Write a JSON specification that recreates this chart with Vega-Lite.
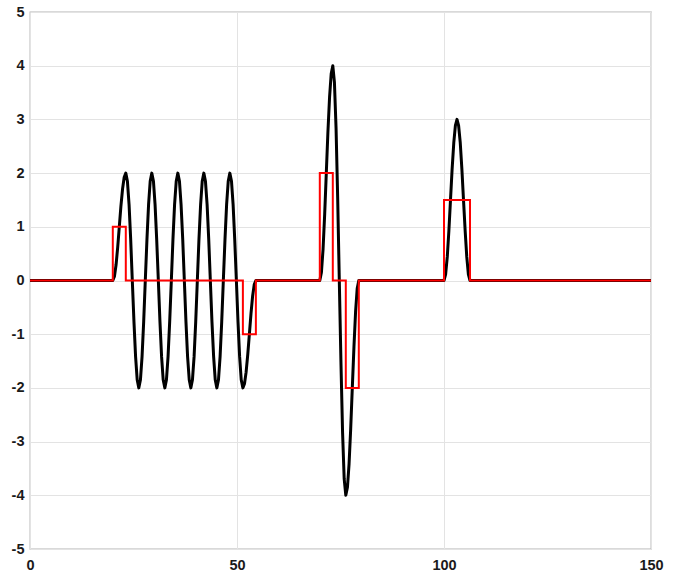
{
  "$schema": "https://vega.github.io/schema/vega-lite/v6.json",
  "autosize": "none",
  "width": 621,
  "height": 537,
  "padding": {"left": 30, "top": 12, "right": 26, "bottom": 26},
  "background": "white",
  "config": {
    "view": {"stroke": "#b4b4b4", "strokeWidth": 1.3},
    "axis": {
      "domain": false,
      "grid": true,
      "gridColor": "#e3e3e3",
      "gridWidth": 1,
      "ticks": false,
      "labelFont": "Liberation Sans",
      "labelFontSize": 14.5,
      "labelFontWeight": "bold",
      "labelColor": "#1a1a1a",
      "labelExpr": "replace(datum.label, '\u2212', '-')",
      "title": null
    }
  },
  "datasets": {
    "black": [
      {"x": 0, "y": 0},
      {"x": 20.00, "y": 0}, {"x": 20.39, "y": 0.076}, {"x": 20.79, "y": 0.293}, {"x": 21.18, "y": 0.617},
      {"x": 21.57, "y": 1}, {"x": 21.96, "y": 1.383}, {"x": 22.36, "y": 1.707}, {"x": 22.75, "y": 1.924},
      {"x": 23.14, "y": 2}, {"x": 23.53, "y": 1.848}, {"x": 23.93, "y": 1.414}, {"x": 24.32, "y": 0.765},
      {"x": 24.71, "y": 0}, {"x": 25.11, "y": -0.765}, {"x": 25.50, "y": -1.414}, {"x": 25.89, "y": -1.848},
      {"x": 26.28, "y": -2}, {"x": 26.68, "y": -1.848}, {"x": 27.07, "y": -1.414}, {"x": 27.46, "y": -0.765},
      {"x": 27.85, "y": 0}, {"x": 28.25, "y": 0.765}, {"x": 28.64, "y": 1.414}, {"x": 29.03, "y": 1.848},
      {"x": 29.42, "y": 2}, {"x": 29.82, "y": 1.848}, {"x": 30.21, "y": 1.414}, {"x": 30.60, "y": 0.765},
      {"x": 31.00, "y": 0}, {"x": 31.39, "y": -0.765}, {"x": 31.78, "y": -1.414}, {"x": 32.17, "y": -1.848},
      {"x": 32.57, "y": -2}, {"x": 32.96, "y": -1.848}, {"x": 33.35, "y": -1.414}, {"x": 33.74, "y": -0.765},
      {"x": 34.14, "y": 0}, {"x": 34.53, "y": 0.765}, {"x": 34.92, "y": 1.414}, {"x": 35.32, "y": 1.848},
      {"x": 35.71, "y": 2}, {"x": 36.10, "y": 1.848}, {"x": 36.49, "y": 1.414}, {"x": 36.89, "y": 0.765},
      {"x": 37.28, "y": 0}, {"x": 37.67, "y": -0.765}, {"x": 38.06, "y": -1.414}, {"x": 38.46, "y": -1.848},
      {"x": 38.85, "y": -2}, {"x": 39.24, "y": -1.848}, {"x": 39.64, "y": -1.414}, {"x": 40.03, "y": -0.765},
      {"x": 40.42, "y": 0}, {"x": 40.81, "y": 0.765}, {"x": 41.21, "y": 1.414}, {"x": 41.60, "y": 1.848},
      {"x": 41.99, "y": 2}, {"x": 42.38, "y": 1.848}, {"x": 42.78, "y": 1.414}, {"x": 43.17, "y": 0.765},
      {"x": 43.56, "y": 0}, {"x": 43.95, "y": -0.765}, {"x": 44.35, "y": -1.414}, {"x": 44.74, "y": -1.848},
      {"x": 45.13, "y": -2}, {"x": 45.53, "y": -1.848}, {"x": 45.92, "y": -1.414}, {"x": 46.31, "y": -0.765},
      {"x": 46.70, "y": 0}, {"x": 47.10, "y": 0.765}, {"x": 47.49, "y": 1.414}, {"x": 47.88, "y": 1.848},
      {"x": 48.27, "y": 2}, {"x": 48.67, "y": 1.848}, {"x": 49.06, "y": 1.414}, {"x": 49.45, "y": 0.765},
      {"x": 49.85, "y": 0}, {"x": 50.24, "y": -0.765}, {"x": 50.63, "y": -1.414}, {"x": 51.02, "y": -1.848},
      {"x": 51.42, "y": -2}, {"x": 51.81, "y": -1.924}, {"x": 52.20, "y": -1.707}, {"x": 52.59, "y": -1.383},
      {"x": 52.99, "y": -1}, {"x": 53.38, "y": -0.617}, {"x": 53.77, "y": -0.293}, {"x": 54.16, "y": -0.076},
      {"x": 54.56, "y": 0},
      {"x": 70.00, "y": 0}, {"x": 70.39, "y": 0.152}, {"x": 70.79, "y": 0.586}, {"x": 71.18, "y": 1.235},
      {"x": 71.57, "y": 2}, {"x": 71.96, "y": 2.765}, {"x": 72.36, "y": 3.414}, {"x": 72.75, "y": 3.848},
      {"x": 73.14, "y": 4}, {"x": 73.53, "y": 3.696}, {"x": 73.93, "y": 2.828}, {"x": 74.32, "y": 1.531},
      {"x": 74.71, "y": 0}, {"x": 75.11, "y": -1.531}, {"x": 75.50, "y": -2.828}, {"x": 75.89, "y": -3.696},
      {"x": 76.28, "y": -4}, {"x": 76.68, "y": -3.848}, {"x": 77.07, "y": -3.414}, {"x": 77.46, "y": -2.765},
      {"x": 77.85, "y": -2}, {"x": 78.25, "y": -1.235}, {"x": 78.64, "y": -0.586}, {"x": 79.03, "y": -0.152},
      {"x": 79.42, "y": 0},
      {"x": 100.00, "y": 0}, {"x": 100.39, "y": 0.114}, {"x": 100.79, "y": 0.439}, {"x": 101.18, "y": 0.926},
      {"x": 101.57, "y": 1.5}, {"x": 101.96, "y": 2.074}, {"x": 102.36, "y": 2.561}, {"x": 102.75, "y": 2.886},
      {"x": 103.14, "y": 3}, {"x": 103.53, "y": 2.886}, {"x": 103.93, "y": 2.561}, {"x": 104.32, "y": 2.074},
      {"x": 104.71, "y": 1.5}, {"x": 105.11, "y": 0.926}, {"x": 105.50, "y": 0.439}, {"x": 105.89, "y": 0.114},
      {"x": 106.28, "y": 0},
      {"x": 150, "y": 0}
    ],
    "red": [
      {"x": 0, "y": 0}, {"x": 20, "y": 1}, {"x": 23.14, "y": 0}, {"x": 51.42, "y": -1},
      {"x": 54.56, "y": 0}, {"x": 70, "y": 2}, {"x": 73.14, "y": 0}, {"x": 76.28, "y": -2},
      {"x": 79.42, "y": 0}, {"x": 100, "y": 1.5}, {"x": 106.28, "y": 0}, {"x": 150, "y": 0}
    ]
  },
  "encoding": {
    "x": {"field": "x", "type": "quantitative",
      "scale": {"domain": [0, 150], "nice": false, "zero": false},
      "axis": {"values": [0, 50, 100, 150], "labelPadding": 9, "labelFlush": false}},
    "y": {"field": "y", "type": "quantitative",
      "scale": {"domain": [-5, 5], "nice": false},
      "axis": {"values": [-5, -4, -3, -2, -1, 0, 1, 2, 3, 4, 5], "labelPadding": 6}}
  },
  "layer": [
    {
      "data": {"name": "black"},
      "mark": {"type": "line", "color": "black", "strokeWidth": 3, "strokeJoin": "round", "clip": true}
    },
    {
      "data": {"name": "red"},
      "mark": {"type": "line", "color": "#ff0000", "strokeWidth": 2, "interpolate": "step-after", "clip": true}
    }
  ]
}
